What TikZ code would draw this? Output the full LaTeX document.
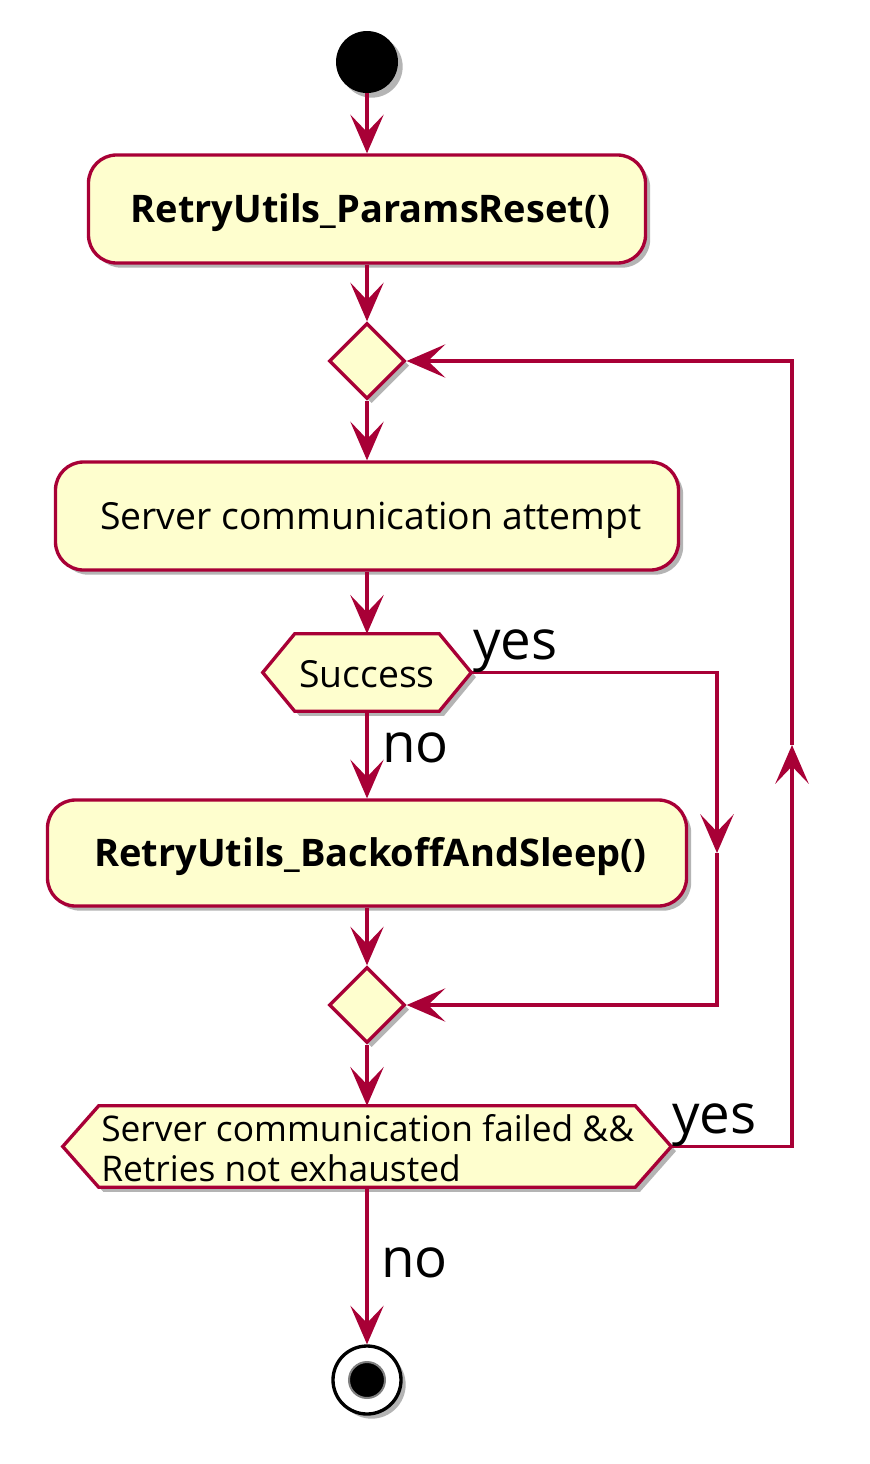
\documentclass[tikz,border=0pt]{standalone}
\usepackage{fontspec}
\setmainfont{Open Sans}
\usetikzlibrary{arrows.meta,shapes.geometric,shadows,calc}
\definecolor{umlfill}{HTML}{FEFECE}
\definecolor{umlline}{HTML}{A80036}
\newcommand{\lowertext}[2]{\raisebox{-#1}[\height][\depth]{#2}}
\begin{document}
\begin{tikzpicture}[x=0.75pt,y=-0.75pt,
  shad/.style={drop shadow={shadow xshift=3.5pt,shadow yshift=-3.5pt,opacity=0.45,fill=black!65}},
  act/.style={draw=umlline,fill=umlfill,line width=2.5pt,rounded corners=21pt,shad,
    inner sep=0pt,font=\fontsize{28}{34}\selectfont},
  dia/.style={diamond,draw=umlline,fill=umlfill,line width=2.5pt,shad,inner sep=0pt,
    minimum width=57pt,minimum height=57pt},
  hexshape/.style={draw=umlline,fill=umlfill,line width=2.5pt,shad,line join=miter},
  hexbox/.style={inner sep=0pt,draw=none},
  hextext/.style={inner sep=0pt,font=\fontsize{28}{30}\selectfont},
  flow/.style={draw=umlline,line width=2.5pt,
    -{Stealth[length=29pt,width=25pt,inset=13pt,fill=umlline]}},
  lbl/.style={inner sep=0pt,font=\fontsize{41}{48}\selectfont},
]
\fill[white] (0,0) rectangle (870,1464);
\useasboundingbox (0,0) rectangle (870,1464);

% start
\node[circle,fill=black,minimum size=46.5pt,inner sep=0pt,shad] (start) at (367,62) {};

% activity 1
\node[act,minimum width=417.75pt,minimum height=81pt] (b1) at (367,209)
  {\hspace*{5pt}\fontsize{28.5}{34}\selectfont\bfseries\lowertext{3pt}{RetryUtils\_ParamsReset()}};

% merge diamond
\node[dia] (d1) at (367,361) {};

% activity 2
\node[act,minimum width=467.25pt,minimum height=81pt] (b2) at (367,516)
  {\hspace*{6pt}\lowertext{3pt}{Server communication attempt}};

% hexagon Success
\node[hexbox,minimum width=156pt,minimum height=57.75pt] (h1) at (367,672.5) {};
\path[hexshape] (h1.west) -- ([xshift=24pt]h1.north west) -- ([xshift=-24pt]h1.north east)
  -- (h1.east) -- ([xshift=-24pt]h1.south east) -- ([xshift=24pt]h1.south west) -- cycle;
\node[hextext] (h1t) at (h1) {\lowertext{1pt}{Success}};

% activity 3
\node[act,minimum width=479.25pt,minimum height=79.5pt] (b3) at (367,853)
  {\hspace*{5pt}\fontsize{28.5}{34}\selectfont\bfseries\lowertext{3pt}{RetryUtils\_BackoffAndSleep()}};

% merge diamond 2
\node[dia] (d2) at (367,1005) {};

% hexagon 2
\node[hexbox,minimum width=456pt,minimum height=60.75pt] (h2) at (367,1146.5) {};
\path[hexshape] (h2.west) -- ([xshift=27pt]h2.north west) -- ([xshift=-27pt]h2.north east)
  -- (h2.east) -- ([xshift=-27pt]h2.south east) -- ([xshift=27pt]h2.south west) -- cycle;
\node[hextext,align=left,anchor=west,font=\fontsize{26.5}{30}\selectfont] (h2t) at (101,1148.5)
  {Server communication failed \&\&\\Retries not exhausted};

% end
\node[circle,draw=black,fill=white,line width=2.5pt,minimum size=51pt,inner sep=0pt,shad] (end) at (367,1380) {};
\node[circle,fill=black,draw=black!50,line width=1.5pt,minimum size=27pt,inner sep=0pt] (endin) at (end) {};

% helper coordinates
\coordinate (m1) at (717,853);
\coordinate (m2) at (792,745);

% connectors
\draw[flow] (start.south) -- (b1.north);
\draw[flow] (b1.south) -- (d1.north);
\draw[flow] (d1.south) -- (b2.north);
\draw[flow] (b2.south) -- (h1.north);
\draw[flow] (h1.south) -- (b3.north);
\draw[flow] (b3.south) -- (d2.north);
\draw[flow] (d2.south) -- (h2.north);
\draw[flow] (h2.south) -- (end.north);
\draw[flow] (h1.east) -| (m1);
\draw[flow] (m1) |- (d2.east);
\draw[flow] (h2.east) -| (m2);
\draw[flow] (m2) |- (d1.east);

% labels
\node[lbl,anchor=base west] (yes1) at (473,659) {yes};
\node[lbl,anchor=base west] (no1) at (382,762) {no};
\node[lbl,anchor=base west] (yes2) at (672,1133) {yes};
\node[lbl,anchor=base west] (no2) at (381,1277) {no};
\end{tikzpicture}
\end{document}
